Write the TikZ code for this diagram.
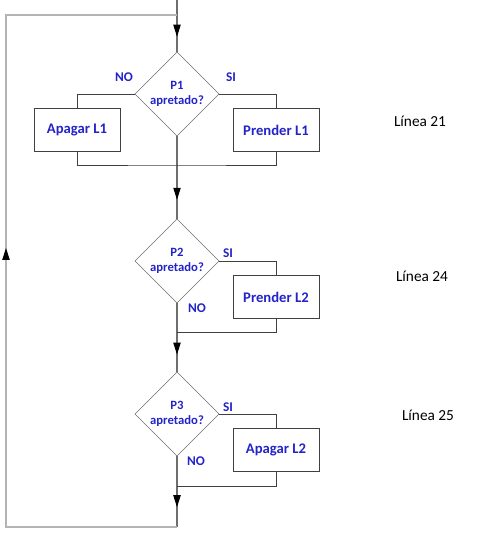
\documentclass[tikz,border=0pt]{standalone}
\usepackage{fontspec}
\setmainfont{Carlito}
\usetikzlibrary{arrows.meta,positioning,calc,shapes.geometric,decorations.markings}
\definecolor{flowblue}{HTML}{2323C8}
\definecolor{flowgray}{HTML}{6E6E6E}
\definecolor{loopgray}{HTML}{B4B4B4}
\definecolor{boxgray}{HTML}{404040}

\begin{document}
\begin{tikzpicture}[x=0.75pt, y=-0.75pt, font=\bfseries, >=Triangle]
  \tikzstyle{cond}=[diamond,draw=flowgray,aspect=1,inner sep=0pt,minimum width=63pt,minimum height=63pt,align=center,text=flowblue,font=\fontsize{9.5}{11.5}\selectfont\bfseries]
  \tikzstyle{act}=[rectangle,draw=boxgray,line width=0.6pt,minimum width=64.5pt,minimum height=32.25pt,text=flowblue,font=\fontsize{11}{13}\selectfont\bfseries]
  \tikzstyle{lbl}=[text=flowblue,font=\fontsize{10}{12}\selectfont\bfseries]
  \tikzstyle{ln}=[font=\fontsize{11.5}{14}\selectfont]
  \tikzstyle{flow}=[draw=flowgray,line width=0.8pt]
  \tikzstyle{loopline}=[draw=loopgray,line width=0.8pt]
  \tikzstyle{branch}=[draw=boxgray,line width=0.6pt]
  \tikzset{midarrow/.style={postaction={decorate,decoration={markings,mark=at position #1 with {\arrow{Triangle[length=9pt,width=5.5pt,color=black]}}}}}}
  \useasboundingbox (0,0) rectangle (485,541);
  % points on the main line and the loop
  \coordinate (top) at (177,0);
  \coordinate (t1) at (177,15);
  \coordinate (m1) at (177,165);
  \coordinate (m2) at (177,332);
  \coordinate (m3) at (177,486);
  \coordinate (bot) at (177,527);
  \coordinate (lb) at (6,527);
  \coordinate (lt) at (6,15);
  % line 21
  \node[cond] (d1) at (177,94) {P1\\apretado?};
  \node[act] (a11) at (77,130) {Apagar L1};
  \node[act] (a12) at (276,130) {Prender L1};
  \node[lbl] (no1) at (124,77) {NO};
  \node[lbl] (si1) at (231,77) {SI};
  % line 24
  \node[cond] (d2) at (177,261) {P2\\apretado?};
  \node[act] (a2) at (276,297) {Prender L2};
  \node[lbl] (si2) at (228,253) {SI};
  \node[lbl] (no2) at (197,308) {NO};
  % line 25
  \node[cond] (d3) at (177,414) {P3\\apretado?};
  \node[act] (a3) at (276,450) {Apagar L2};
  \node[lbl] (si3) at (228,407) {SI};
  \node[lbl] (no3) at (196,461) {NO};
  % program lines
  \node[ln] (ln21) at (420,121) {Línea 21};
  \node[ln] (ln24) at (422,276) {Línea 24};
  \node[ln] (ln25) at (428,415) {Línea 25};
  \draw[flow,midarrow=0.71] (top) -- (d1.north);
  \draw[flow,midarrow=0.77] (d1.south) -- (d2.north);
  \draw[flow,midarrow=0.75] (d2.south) -- (d3.north);
  \draw[flow,midarrow=0.72] (d3.south) -- (bot);
  \draw[loopline,midarrow=0.527] (bot) -- (lb) -- (lt) -- (t1);
  \draw[branch] (d1.west) -| (a11.north);
  \draw[branch] (d1.east) -| (a12.north);
  \draw[branch] (a11.south) |- (m1) -| (a12.south);
  \draw[branch] (d2.east) -| (a2.north);
  \draw[branch] (a2.south) |- (m2);
  \draw[branch] (d3.east) -| (a3.north);
  \draw[branch] (a3.south) |- (m3);
\end{tikzpicture}
\end{document}
